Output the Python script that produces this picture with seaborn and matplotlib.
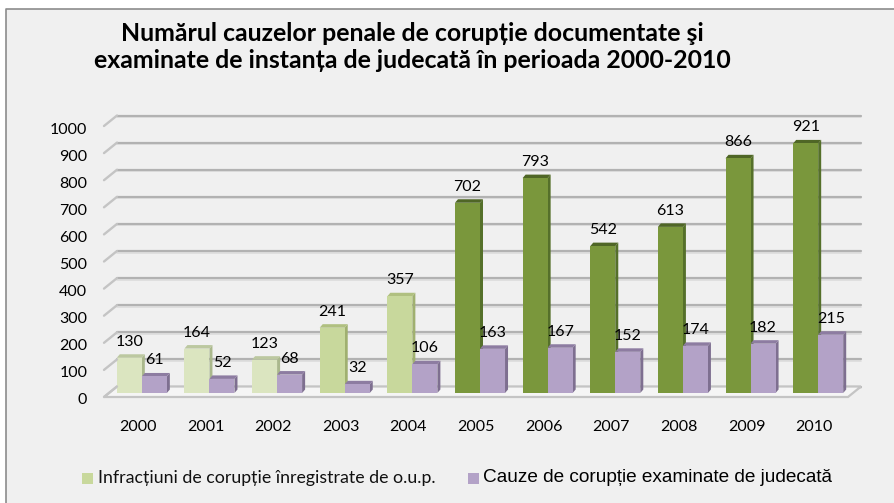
import matplotlib
matplotlib.use('Agg')
import matplotlib.pyplot as plt
import seaborn as sns
import pandas as pd
from matplotlib.patches import Polygon, Rectangle
from matplotlib.lines import Line2D
from matplotlib.transforms import Affine2D

years = ['2000', '2001', '2002', '2003', '2004', '2005', '2006', '2007', '2008', '2009', '2010']
infractiuni = [130, 164, 123, 241, 357, 702, 793, 542, 613, 866, 921]
cauze = [61, 52, 68, 32, 106, 163, 167, 152, 174, 182, 215]
series_names = ['Infracțiuni de corupție înregistrate de o.u.p.', 'Cauze de corupție examinate de judecată']
title = 'Numărul cauzelor penale de corupție documentate şi\nexaminate de instanța de judecată în perioada 2000-2010'
y_ticks = list(range(0, 1001, 100))

W, H = 894, 503
BG = '#f0f0f0'
LIGHT = ('#dbe5c0', '#aab88c', '#bcc8a0')
LIGHT2 = ('#c8d89c', '#a0b070', '#b0c080')
DARK = ('#7a973c', '#55702a', '#4f6626')
PURPLE = ('#b3a2c7', '#7e6f90', '#8d7ca1')
GRID = '#b2b2b2'


def px(x, y):
    return x / W, 1 - y / H


sns.set_theme(style='white')
plt.rcParams['font.family'] = ['Lato', 'DejaVu Sans']

df = pd.DataFrame({
    'an': years * 2,
    'valoare': infractiuni + cauze,
    'serie': [series_names[0]] * len(years) + [series_names[1]] * len(years),
})

fig = plt.figure(figsize=(W / 100, H / 100), dpi=100, facecolor='white')
# chart area with its frame, open at the bottom and right
fig.patches.append(Rectangle(px(6, H), (W - 6) / W, (H - 9) / H, transform=fig.transFigure,
                             facecolor=BG, edgecolor='none', zorder=-5))
fig.add_artist(Line2D([6 / W, 6 / W, 1], [0, 1 - 9 / H, 1 - 9 / H], transform=fig.transFigure, color='#8c8c8c', lw=1.2))

ax = fig.add_axes([104 / W, 1 - 397 / H, 744 / W, 271 / H])
ax.set_facecolor('none')
sns.barplot(data=df, x='an', y='valoare', hue='serie', width=0.74, gap=0, dodge=True, legend=False, ax=ax, zorder=5)
ax.set_xlim(-0.5, 10.5)
ax.set_ylim(0, 1000)
ax.set_xlabel('')
ax.set_ylabel('')
ax.set_yticks(y_ticks)
for s in ax.spines.values():
    s.set_visible(False)
ax.tick_params(axis='x', length=0, pad=16.5, labelsize=11.5, colors='black')
ax.tick_params(axis='y', length=0, pad=12, labelsize=11.5, colors='black')
for lbl in ax.get_yticklabels():
    lbl.set_transform(lbl.get_transform() + Affine2D().translate(0, -2))

# grid on the back wall and side wall
depth = Affine2D().translate(13, 10.5)
back = ax.get_yaxis_transform() + depth
for v in y_ticks:
    ax.plot([0, 1], [v, v], transform=back + Affine2D().translate(0, -1.5), color='#dcdcdc', lw=1.2, clip_on=False, zorder=1)
    ax.plot([0, 1], [v, v], transform=back, color=GRID, lw=1.6, clip_on=False, zorder=1)
    p0 = ax.get_yaxis_transform().transform((0, v))
    fig.add_artist(Line2D([p0[0], p0[0] + 13], [p0[1], p0[1] + 10.5], transform=None, color='#c4c4c4', lw=1.7, zorder=1))

# floor
p0 = ax.get_yaxis_transform().transform((0, 0))
p1 = ax.get_yaxis_transform().transform((1, 0))
ax.add_patch(Polygon([p0, p1, p1 + (13, 10.5), p0 + (13, 10.5)], closed=True, transform=None,
                     facecolor='#f5f5f5', edgecolor='#c4c4c4', lw=1.6, zorder=2, clip_on=False))

# turn flat bars into boxes
shift = Affine2D().translate(4, 4)
bars = [b for b in ax.patches if isinstance(b, Rectangle) and b.get_height() > 0]
n = len(years)
dx, dy = 3, 3.5
for i, bar in enumerate(bars):
    idx = i % n
    if i < n:
        face, side, top = (LIGHT if idx < 3 else LIGHT2) if idx < 5 else DARK
        z = 6
    else:
        face, side, top = PURPLE
        z = 7
    x, w, h = bar.get_x(), bar.get_width(), bar.get_height()
    a = ax.transData.transform((x, 0))
    b = ax.transData.transform((x + w, h))
    x0, y0 = a[0] + 4, a[1] + 4
    x1, y1 = b[0] + 4, b[1] + 4
    bar.set_transform(ax.transData + shift)
    bar.set_facecolor(face)
    bar.set_edgecolor('none')
    bar.set_zorder(z + 0.5)
    ax.add_patch(Polygon([(x1, y0), (x1 + dx, y0 + dy), (x1 + dx, y1 + dy), (x1, y1)], transform=None,
                         facecolor=side, edgecolor='none', zorder=z, clip_on=False))
    ax.add_patch(Polygon([(x0, y1), (x0 + dx, y1 + dy), (x1 + dx, y1 + dy), (x1, y1)], transform=None,
                         facecolor=top, edgecolor='none', zorder=z, clip_on=False))
    ax.annotate(str(int(h)), xy=(x + w / 2, h), xycoords='data', xytext=(4, 20), textcoords='offset pixels',
                ha='center', va='center', fontsize=11.5, color='black', zorder=20, annotation_clip=False)

fig.text(*px(412, 47), title, ha='center', va='center', fontsize=17.9, fontweight='bold', color='black', linespacing=1.17)

# legend
fig.patches.append(Rectangle(px(82, 484), 11 / W, 11 / H, transform=fig.transFigure, facecolor=LIGHT2[0], edgecolor='none'))
fig.text(*px(98, 478), series_names[0], ha='left', va='center', fontsize=12.75, color='#111111')
fig.patches.append(Rectangle(px(468, 484), 11 / W, 11 / H, transform=fig.transFigure, facecolor=PURPLE[0], edgecolor='none'))
fig.text(*px(483, 477), series_names[1], ha='left', va='center', fontsize=13.7, family=['Liberation Sans'], color='black')

fig.savefig('out.png', dpi=100, facecolor='white')
